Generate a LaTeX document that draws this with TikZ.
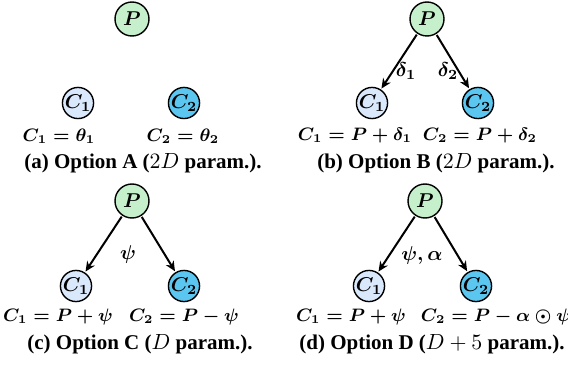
\documentclass[tikz,border=0pt]{standalone}
\usepackage{amsmath,bm}
\usepackage{fontspec}
\setmainfont{Liberation Serif}
\usetikzlibrary{arrows.meta}
\definecolor{pgreen}{HTML}{C6F0CC}
\definecolor{cone}{HTML}{DAE8FC}
\definecolor{ctwo}{HTML}{5BC6F0}
\begin{document}
\begin{tikzpicture}[x=0.5pt,y=-0.5pt,
  pnode/.style={circle,draw,line width=0.7pt,fill=pgreen,minimum size=17pt,inner sep=0pt,font=\boldmath},
  conode/.style={circle,draw,line width=0.7pt,fill=cone,minimum size=15.5pt,inner sep=0pt,font=\boldmath},
  ctnode/.style={circle,draw,line width=0.7pt,fill=ctwo,minimum size=15.5pt,inner sep=0pt,font=\boldmath},
  eqn/.style={font=\boldmath\fontsize{9.2}{11}\selectfont,inner sep=0pt},
  capt/.style={font=\bfseries\fontsize{10.5}{12}\selectfont,inner sep=0pt},
  lbl/.style={font=\boldmath,inner sep=0pt},
  arr/.style={-{Stealth[length=5pt,width=4.5pt]},line width=1pt,shorten >=0.5pt,shorten <=0.5pt}]
\useasboundingbox (0,0) rectangle (568,369);
% (a)
\node[pnode] (pa) at (132,19) {$P$};
\node[conode] (ca1) at (78,103) {$C_1$};
\node[ctnode] (ca2) at (184,103) {$C_2$};
\node[eqn] (ea1) at (59,136) {$C_1=\theta_1$};
\node[eqn] (ea2) at (183,136) {$C_2=\theta_2$};
\node[capt] (capa) at (143,163) {(a) Option A ($2D$ param.).};
% (b)
\node[pnode] (pb) at (427,19) {$P$};
\node[conode] (cb1) at (372,103) {$C_1$};
\node[ctnode] (cb2) at (478,103) {$C_2$};
\draw[arr] (pb) -- (cb1);
\draw[arr] (pb) -- (cb2);
\node[lbl] (db1) at (406,71) {$\delta_1$};
\node[lbl] (db2) at (448,71) {$\delta_2$};
\node[eqn] (eb1) at (355,136) {$C_1=P+\delta_1$};
\node[eqn] (eb2) at (480,136) {$C_2=P+\delta_2$};
\node[capt] (capb) at (436,163) {(b) Option B ($2D$ param.).};
% (c)
\node[pnode] (pc) at (132,201) {$P$};
\node[conode] (cc1) at (76,286) {$C_1$};
\node[ctnode] (cc2) at (184,286) {$C_2$};
\draw[arr] (pc) -- (cc1);
\draw[arr] (pc) -- (cc2);
\node[lbl] (psic) at (128,254) {$\psi$};
\node[eqn] (ec1) at (58,317) {$C_1=P+\psi$};
\node[eqn] (ec2) at (184,317) {$C_2=P-\psi$};
\node[capt] (capc) at (140,344) {(c) Option C ($D$ param.).};
% (d)
\node[pnode] (pd) at (425,201) {$P$};
\node[conode] (cd1) at (369,286) {$C_1$};
\node[ctnode] (cd2) at (476,286) {$C_2$};
\draw[arr] (pd) -- (cd1);
\draw[arr] (pd) -- (cd2);
\node[lbl] (psid) at (422,255) {$\psi,\alpha$};
\node[eqn] (ed1) at (351,317) {$C_1=P+\psi$};
\node[eqn,font=\boldmath\fontsize{8.7}{11}\selectfont] (ed2) at (496,317) {$C_2=P-\alpha\odot\psi$};
\node[capt] (capd) at (432,344) {(d) Option D ($D+5$ param.).};
\end{tikzpicture}
\end{document}
